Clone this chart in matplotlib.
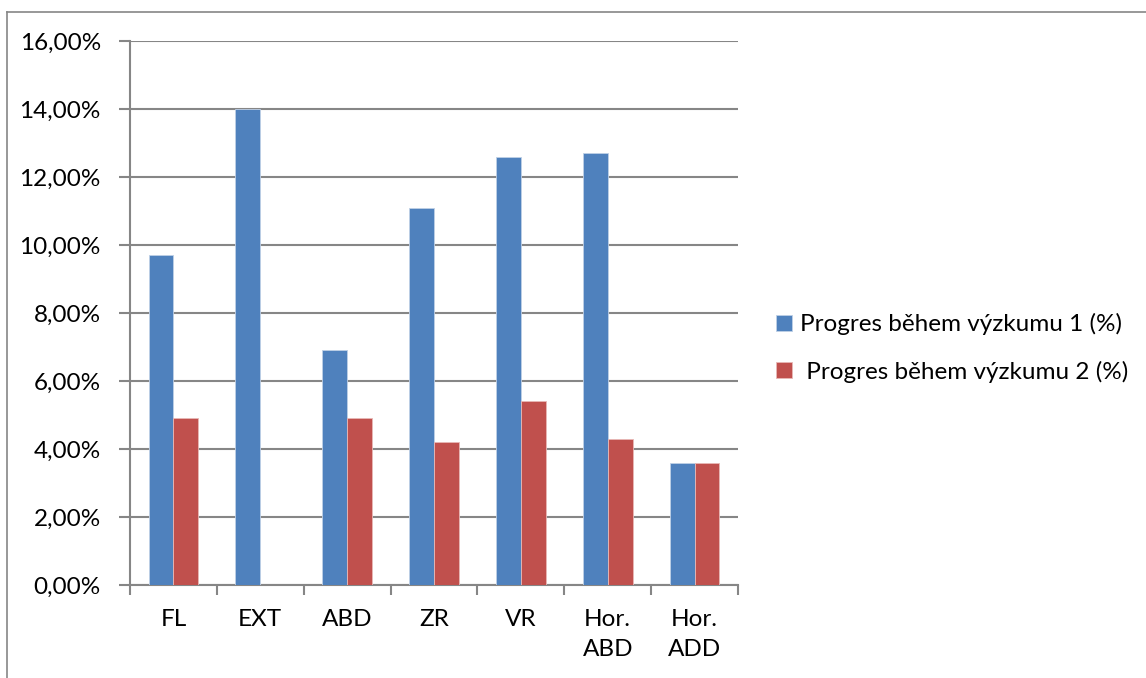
import matplotlib.pyplot as plt
from matplotlib.lines import Line2D
from matplotlib.ticker import FuncFormatter, MultipleLocator
import numpy as np

categories = ['FL', 'EXT', 'ABD', 'ZR', 'VR', 'Hor.\nABD', 'Hor.\nADD']
progress_1 = [9.7, 14.0, 6.9, 11.1, 12.6, 12.7, 3.6]
progress_2 = [4.9, 0.0, 4.9, 4.2, 5.4, 4.3, 3.6]
labels = ['Progres během výzkumu 1 (%)', ' Progres během výzkumu 2 (%)']

BLUE = '#4F81BD'
RED = '#C0504D'
GREY = '#868686'

plt.rcParams['font.family'] = ['Lato', 'DejaVu Sans']

fig = plt.figure(figsize=(11.46, 6.78), dpi=100)
ax = fig.add_axes([130 / 1146, 1 - 585 / 678, 608 / 1146, 544 / 678])

x = np.arange(len(categories))
w = 1 / 3.5
b1 = ax.bar(x - w / 2, progress_1, w, color=BLUE, edgecolor='#BFD0E6', linewidth=0.6,
            label=labels[0], zorder=3)
b2 = ax.bar(x + w / 2, progress_2, w, color=RED, edgecolor='#E8B8B6', linewidth=0.6,
            label=labels[1], zorder=3)

ax.set_xlim(-0.5, len(categories) - 0.5)
ax.set_ylim(0, 16)
ax.yaxis.set_major_locator(MultipleLocator(2))
ax.yaxis.set_major_formatter(FuncFormatter(lambda v, p: f'{v:.2f}'.replace('.', ',') + '%'))
ax.grid(axis='y', color=GREY, linewidth=1.5, zorder=1)

ax.set_xticks(x)
ax.set_xticklabels(categories, linespacing=1.55, va='top')
ax.set_xticks(np.arange(len(categories) + 1) - 0.5, minor=True)
ax.tick_params(axis='x', which='major', length=0, pad=17, labelsize=17.5)
ax.tick_params(axis='x', which='minor', length=7, width=1.5, color=GREY, direction='out')
ax.tick_params(axis='y', length=8, width=1.5, color=GREY, pad=13, labelsize=17.5)

for side in ['top', 'right']:
    ax.spines[side].set_visible(False)
for side in ['left', 'bottom']:
    ax.spines[side].set_color(GREY)
    ax.spines[side].set_linewidth(1.5)

fig.legend(handles=[b1, b2], loc='center left', bbox_to_anchor=(766 / 1146, 1 - 348 / 678),
           frameon=False, fontsize=17.5, handlelength=0.65, handleheight=0.65,
           handletextpad=0.35, labelspacing=1.05, borderaxespad=0)

# chart frame (top and left edges)
fig.add_artist(Line2D([7 / 1146, 1], [1 - 12 / 678, 1 - 12 / 678], color=GREY, linewidth=1.2))
fig.add_artist(Line2D([7 / 1146, 7 / 1146], [0, 1 - 12 / 678], color=GREY, linewidth=1.2))

fig.savefig('out.png', dpi=100)
